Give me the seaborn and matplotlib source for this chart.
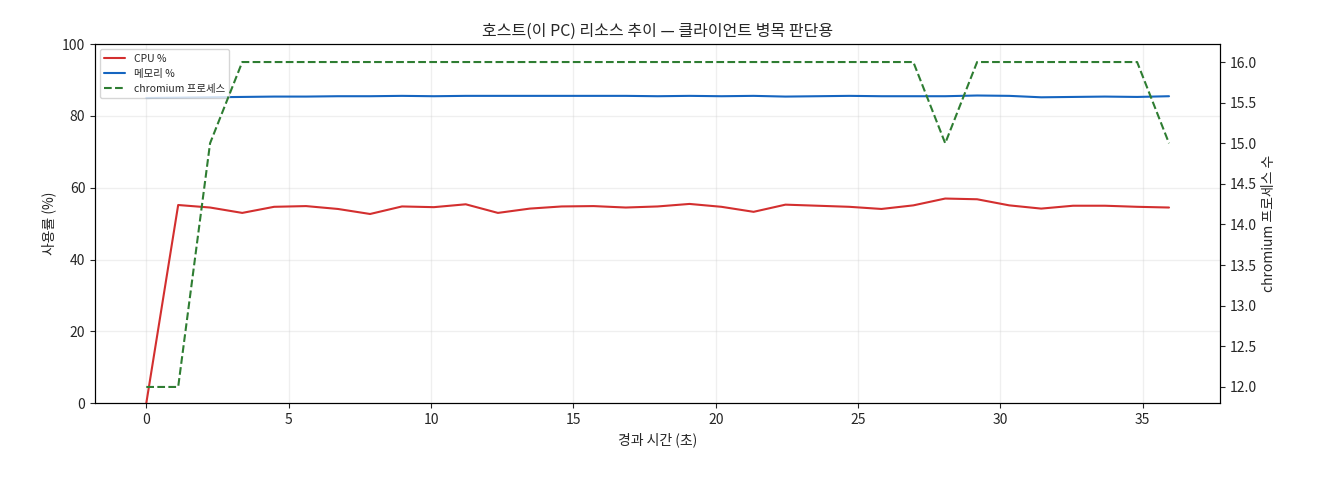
import matplotlib
matplotlib.use("Agg")
import matplotlib.pyplot as plt
import seaborn as sns
import numpy as np
import pandas as pd

sns.set_theme(style="ticks", rc={"xtick.major.width": 0.8, "ytick.major.width": 0.8,
                                 "xtick.major.size": 3.5, "ytick.major.size": 3.5,
                                 "axes.linewidth": 0.8})
plt.rcParams['font.family'] = ['Noto Sans CJK KR', 'DejaVu Sans']
plt.rcParams['axes.unicode_minus'] = False

elapsed = [0.0, 1.12, 2.24, 3.37, 4.49, 5.61, 6.73, 7.86, 8.98, 10.1, 11.22, 12.35, 13.47, 14.59,
           15.71, 16.84, 17.96, 19.08, 20.2, 21.33, 22.45, 23.57, 24.69, 25.82, 26.94, 28.06,
           29.18, 30.31, 31.43, 32.55, 33.67, 34.8, 35.92]
cpu = [0, 55.2, 54.5, 53.0, 54.7, 54.9, 54.1, 52.7, 54.8, 54.6, 55.4, 53.0, 54.2, 54.8, 54.9,
       54.5, 54.8, 55.5, 54.7, 53.3, 55.3, 55.0, 54.7, 54.1, 55.1, 57.0, 56.8, 55.1, 54.2, 55.0,
       55.0, 54.7, 54.5]
mem = [85.0, 85.1, 85.2, 85.3, 85.4, 85.4, 85.5, 85.5, 85.6, 85.5, 85.6, 85.6, 85.6, 85.6, 85.6,
       85.6, 85.5, 85.6, 85.5, 85.6, 85.4, 85.5, 85.6, 85.5, 85.5, 85.5, 85.7, 85.6, 85.2, 85.3,
       85.4, 85.3, 85.5]
chromium = [12, 12, 15, 16, 16, 16, 16, 16, 16, 16, 16, 16, 16, 16, 16, 16, 16, 16, 16, 16, 16,
            16, 16, 16, 16, 15, 16, 16, 16, 16, 16, 16, 15]

df = pd.DataFrame({"t": elapsed, "cpu": cpu, "mem": mem, "chr": chromium})

fig, ax = plt.subplots(figsize=(13.2, 4.8), dpi=100)
fig.subplots_adjust(left=0.072, right=0.924, top=0.908, bottom=0.16)
sns.lineplot(data=df, x="t", y="cpu", ax=ax, color="#d32f2f", lw=1.5, label="CPU %")
sns.lineplot(data=df, x="t", y="mem", ax=ax, color="#1565c0", lw=1.5, label="메모리 %")
ax2 = ax.twinx()
sns.lineplot(data=df, x="t", y="chr", ax=ax2, color="#2e7d32", lw=1.5, linestyle="--",
             label="chromium 프로세스")
ax.set_ylim(0, 100)
ax2.set_ylim(11.8, 16.22)
ax.set_xlim(-1.8, 37.7)
ax.set_xlabel("경과 시간 (초)", fontsize=10)
ax.set_ylabel("사용률 (%)", fontsize=10)
ax2.set_ylabel("chromium 프로세스 수", fontsize=10)
ax.set_title("호스트(이 PC) 리소스 추이 — 클라이언트 병목 판단용", fontsize=11.5)
ax.tick_params(labelsize=10)
ax2.tick_params(labelsize=10)
ax.grid(True, alpha=0.3)
h1, l1 = ax.get_legend_handles_labels()
h2, l2 = ax2.get_legend_handles_labels()
ax2.get_legend().remove()
ax.legend(h1 + h2, l1 + l2, loc="upper left", fontsize=7.5)
for a in (ax, ax2):
    for s in a.spines.values():
        s.set_color("black")
fig.savefig("out.png")
